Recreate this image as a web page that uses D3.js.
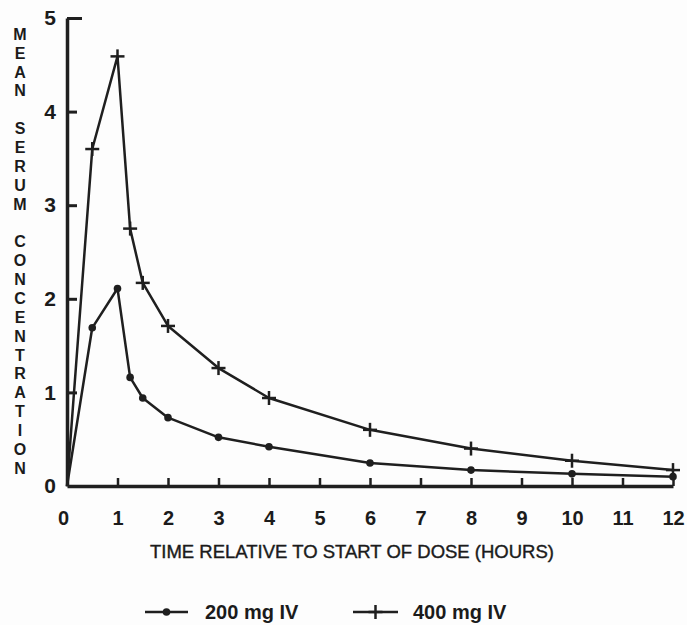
<!DOCTYPE html>
<html>
<head>
<meta charset="utf-8">
<script src="https://cdn.jsdelivr.net/npm/d3@7"></script>
<style>
  body { margin: 0; background: #fdfdfd; }
  svg { display: block; }
  text { font-family: "Liberation Sans", Arial, sans-serif; fill: #1b1b1b; }
</style>
</head>
<body>
<div id="chart"></div>
<script>
// hours after start of dose
var times200 = [0, 0.5, 1, 1.25, 1.5, 2, 3, 4, 6, 8, 10, 12];
var conc200  = [0, 1.69, 2.11, 1.16, 0.94, 0.73, 0.52, 0.42, 0.245, 0.17, 0.13, 0.10];
var times400 = [0, 0.5, 1, 1.25, 1.5, 2, 3, 4, 6, 8, 10, 12];
var conc400  = [0, 3.6, 4.59, 2.75, 2.17, 1.71, 1.26, 0.94, 0.60, 0.40, 0.27, 0.17];
var xTicks = [0, 1, 2, 3, 4, 5, 6, 7, 8, 9, 10, 11, 12];
var yTicks = [0, 1, 2, 3, 4, 5];
var yTitle = "MEAN SERUM CONCENTRATION";
var xTitle = "TIME RELATIVE TO START OF DOSE (HOURS)";
var legendNames = ["200 mg IV", "400 mg IV"];

var W = 687, H = 625;
var ink = "#1f1f1f";

var svg = d3.select("#chart").append("svg")
  .attr("width", W).attr("height", H);

var x = d3.scaleLinear().domain([0, 12]).range([67, 673]);
var y = d3.scaleLinear().domain([0, 5]).range([486, 18]);

// y axis
var yAxis = d3.axisLeft(y).tickValues(yTicks).tickFormat(d3.format("d"))
  .tickSize(-10).tickSizeOuter(0).tickPadding(11);
var gy = svg.append("g").attr("transform", "translate(" + x(0) + ",0)").call(yAxis);
gy.select(".domain").attr("stroke", ink).attr("stroke-width", 3.5);
gy.selectAll(".tick line").attr("stroke", ink).attr("stroke-width", 3)
  .attr("x2", function(d) { return d == 0 ? 0 : (d == 5 ? 15 : 10); });
gy.selectAll(".tick text")
  .attr("font-size", 21).attr("font-weight", "bold").attr("fill", ink)
  .style("font-family", "Liberation Sans, Arial, sans-serif");

// x axis
var xAxis = d3.axisBottom(x).tickValues(xTicks).tickFormat(d3.format("d"))
  .tickSize(-8).tickSizeOuter(0).tickPadding(25);
var gx = svg.append("g").attr("transform", "translate(0," + y(0) + ")").call(xAxis);
gx.select(".domain").attr("stroke", ink).attr("stroke-width", 3.5);
gx.selectAll(".tick line").attr("stroke", ink).attr("stroke-width", 2.5)
  .attr("y2", function(d) { return d == 0 ? 0 : -8; });
gx.selectAll(".tick text")
  .attr("font-size", 20).attr("font-weight", "bold").attr("fill", ink)
  .style("font-family", "Liberation Sans, Arial, sans-serif")
  .attr("dx", function(d) { return d == 0 ? -4 : 0; });

// axis titles
svg.append("text")
  .attr("x", 352).attr("y", 558)
  .attr("text-anchor", "middle")
  .attr("font-size", 18.5)
  .attr("stroke", "#1b1b1b").attr("stroke-width", 0.4)
  .text(xTitle);

svg.append("g").selectAll("text")
  .data(yTitle.split(""))
  .enter()
  .append("text")
  .attr("x", 20)
  .attr("y", function(d, i) { return 34 + i * 18.87; })
  .attr("dy", "0.36em")
  .attr("text-anchor", "middle")
  .attr("font-size", 16)
  .attr("font-weight", "bold")
  .text(function(d) { return d; });

// series
var line = d3.line().x(function(d) { return x(d[0]); }).y(function(d) { return y(d[1]); });
var s200 = d3.zip(times200, conc200);
var s400 = d3.zip(times400, conc400);

svg.append("path").datum(s200)
  .attr("d", line).attr("fill", "none").attr("stroke", ink).attr("stroke-width", 2.5)
  .attr("stroke-linejoin", "round");
svg.append("path").datum(s400)
  .attr("d", line).attr("fill", "none").attr("stroke", ink).attr("stroke-width", 2.5)
  .attr("stroke-linejoin", "round");

function dot(g, cx, cy) {
  g.append("circle").attr("cx", cx).attr("cy", cy).attr("r", 3.8).attr("fill", ink);
}
function cross(g, cx, cy) {
  g.append("line").attr("x1", cx - 7).attr("x2", cx + 7).attr("y1", cy).attr("y2", cy)
    .attr("stroke", ink).attr("stroke-width", 2.5);
  g.append("line").attr("x1", cx).attr("x2", cx).attr("y1", cy - 7).attr("y2", cy + 7)
    .attr("stroke", ink).attr("stroke-width", 2.5);
}

var marks = svg.append("g");
s200.slice(1).forEach(function(d) { dot(marks, x(d[0]), y(d[1])); });
s400.slice(1).forEach(function(d) { cross(marks, x(d[0]), y(d[1])); });

// legend
var leg = svg.append("g");
var legY = 612;
[[145, 188, 205], [353, 398, 413]].forEach(function(p, i) {
  leg.append("line").attr("x1", p[0]).attr("x2", p[1]).attr("y1", legY).attr("y2", legY)
    .attr("stroke", ink).attr("stroke-width", 2.5);
  if (i == 0) dot(leg, (p[0] + p[1]) / 2, legY);
  else cross(leg, (p[0] + p[1]) / 2, legY);
  leg.append("text").attr("x", p[2]).attr("y", legY + 7)
    .attr("font-size", 20).attr("font-weight", "bold")
    .text(legendNames[i]);
});
</script>
</body>
</html>
